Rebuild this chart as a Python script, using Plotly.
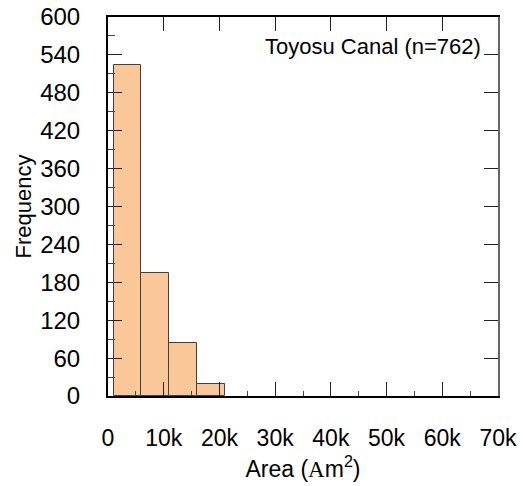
import plotly.graph_objects as go

# Histogram data
bin_starts = [1000, 6000, 11000, 16000]
bin_width = 5000
counts = [524, 194, 84, 19]

x_tickvals = [0, 10000, 20000, 30000, 40000, 50000, 60000, 70000]
x_ticktext = ["0", "10k", "20k", "30k", "40k", "50k", "60k", "70k"]
y_tickvals = [0, 60, 120, 180, 240, 300, 360, 420, 480, 540, 600]

title_text = "Toyosu Canal (n=762)"

FONT = "Liberation Sans, Arial, sans-serif"

fig = go.Figure()
fig.add_trace(go.Bar(
    x=bin_starts, y=counts, width=[bin_width] * len(bin_starts), offset=0,
    marker=dict(color="#FAC898", line=dict(color="#404040", width=1)),
    showlegend=False,
))
# dummy trace for mirrored top/right axes
fig.add_trace(go.Scatter(x=[None], y=[None], xaxis="x2", yaxis="y2", showlegend=False))

fig.update_layout(
    width=523, height=486,
    margin=dict(l=108, r=25, t=17, b=90),
    paper_bgcolor="white", plot_bgcolor="white",
    font=dict(family=FONT, color="black", size=23),
    bargap=0,
    xaxis=dict(
        range=[0, 70000], tickmode="array", tickvals=x_tickvals, ticktext=x_ticktext,
        ticks="inside", ticklen=14, tickwidth=1, tickcolor="#222",
        minor=dict(ticks="inside", dtick=5000, tick0=0, ticklen=5, tickwidth=1, tickcolor="#444"),
        showline=True, linecolor="black", linewidth=2,
        showgrid=False, zeroline=False, automargin=False,
        tickfont=dict(size=23, family=FONT),
        ticklabelstandoff=20,
        title=dict(text='Area (<span style="font-family:Liberation Serif">A</span>m<sup>2</sup>)',
                   font=dict(size=23, family=FONT), standoff=11),
    ),
    yaxis=dict(
        range=[0, 600], tickmode="array", tickvals=y_tickvals,
        ticks="inside", ticklen=14, tickwidth=1, tickcolor="#222",
        minor=dict(ticks="inside", dtick=30, tick0=0, ticklen=7, tickwidth=1, tickcolor="#444"),
        showline=True, linecolor="black", linewidth=2,
        showgrid=False, zeroline=False, automargin=False,
        tickfont=dict(size=24, family=FONT),
        ticklabelstandoff=21,
        title=dict(text="Frequency", font=dict(size=22, family=FONT), standoff=2),
    ),
    xaxis2=dict(
        overlaying="x", side="top", anchor="y2", range=[0, 70000],
        tickmode="array", tickvals=x_tickvals, showticklabels=False,
        ticks="inside", ticklen=14, tickwidth=1, tickcolor="#222",
        showline=True, linecolor="black", linewidth=1.5,
        showgrid=False, zeroline=False, automargin=False,
    ),
    yaxis2=dict(
        overlaying="y", side="right", anchor="x2", range=[0, 600],
        tickmode="array", tickvals=y_tickvals, showticklabels=False,
        ticks="inside", ticklen=14, tickwidth=1, tickcolor="#222",
        showline=True, linecolor="#666", linewidth=1.5,
        showgrid=False, zeroline=False, automargin=False,
    ),
    annotations=[dict(
        text=title_text, xref="paper", yref="paper", x=0.962, y=0.921,
        xanchor="right", yanchor="middle", showarrow=False,
        font=dict(size=22, family=FONT, color="black"),
    )],
)

fig.write_html("out.html")
